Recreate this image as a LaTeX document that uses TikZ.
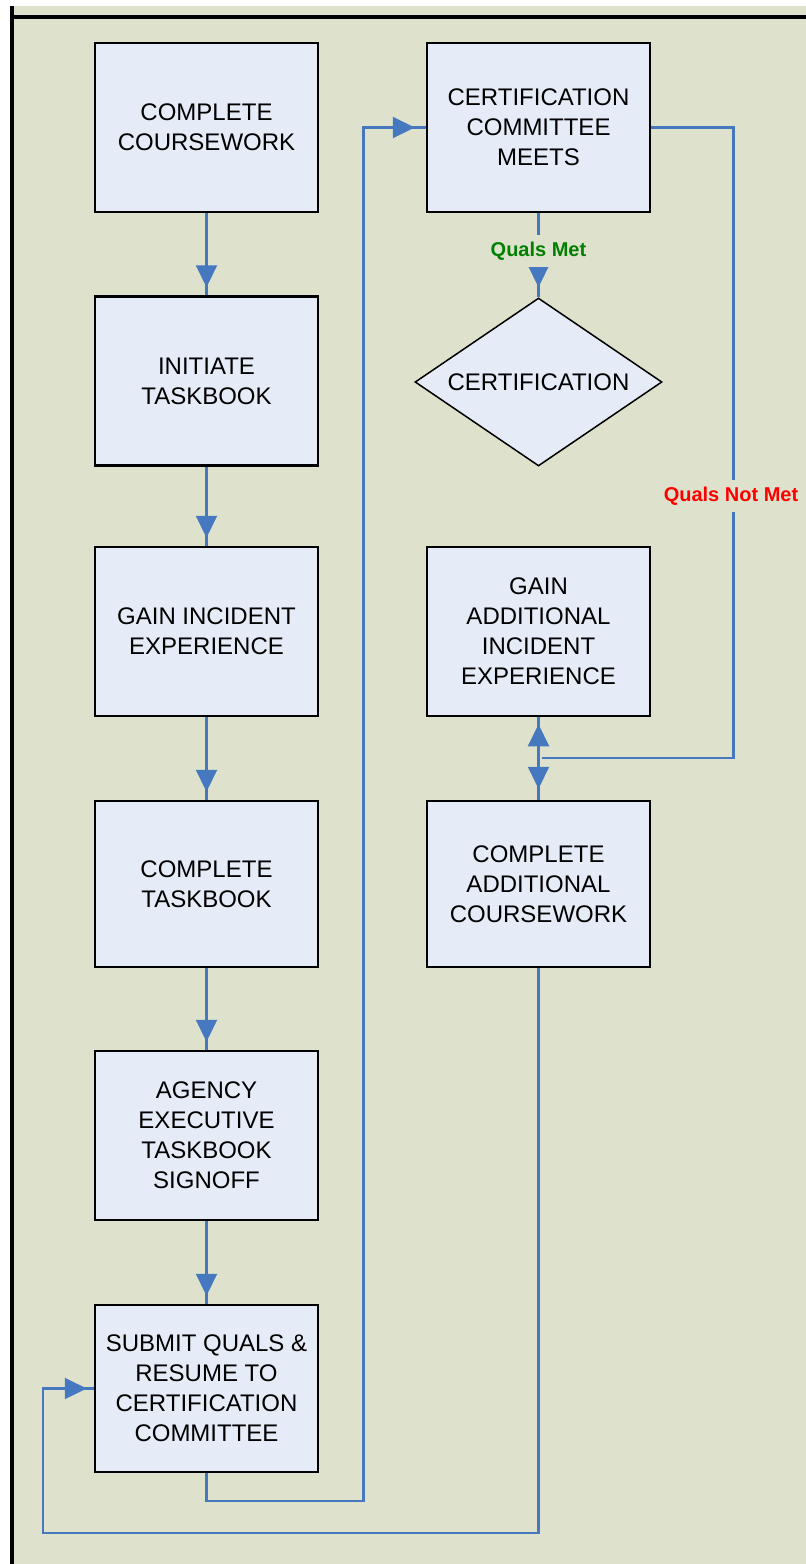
\documentclass[tikz,border=0pt]{standalone}
\usepackage{fontspec}
\setmainfont{Liberation Sans}
\usetikzlibrary{arrows.meta,shapes.geometric,decorations.markings,calc}
\definecolor{bgbeige}{RGB}{222,226,205}
\definecolor{boxfill}{RGB}{230,236,247}
\definecolor{lblue}{RGB}{70,120,192}
\definecolor{qgreen}{RGB}{0,128,0}
\definecolor{qred}{RGB}{255,0,0}
\tikzset{
  stepbox/.style={draw=black, line width=2.5pt, fill=boxfill, minimum width=223pt, minimum height=169pt,
    align=center, inner sep=4pt, font=\fontsize{24}{30}\selectfont},
  decisionbox/.style={diamond, shape aspect=1.47, draw=black, line width=1.5pt, fill=boxfill, minimum width=247pt, minimum height=168pt,
    inner sep=0pt, font=\fontsize{24}{30}\selectfont},
  bline/.style={color=lblue, line width=2.2pt},
  flow/.style={bline, postaction={decorate}, decoration={markings, mark=at position #1 with {\arrow{Triangle[width=21pt,length=22pt]}}}},
  flow/.default=-8pt,
  qlabel/.style={fill=bgbeige, inner xsep=2pt, inner ysep=7pt, font=\bfseries\fontsize{20}{22}\selectfont}
}
\begin{document}
\begin{tikzpicture}[x=1pt,y=-1pt]
\useasboundingbox (0,0) rectangle (806,1564);
\fill[white] (0,0) rectangle (806,1564);
\fill[bgbeige] (11,6) rectangle (806,1564);
\draw[black, line width=4pt] (12,6) -- (12,1564);
\draw[black, line width=3.5pt] (12,17) -- (806,17);

% left column
\node[stepbox] (b1) at (206.5,127.5) {COMPLETE\\COURSEWORK};
\node[stepbox] (b2) at (206.5,381) {INITIATE\\TASKBOOK};
\node[stepbox] (b3) at (206.5,631.5) {GAIN INCIDENT\\EXPERIENCE};
\node[stepbox, minimum height=166pt] (b4) at (206.5,884) {COMPLETE\\TASKBOOK};
\node[stepbox] (b5) at (206.5,1135.5) {AGENCY\\EXECUTIVE\\TASKBOOK\\SIGNOFF};
\node[stepbox, minimum height=167pt] (b6) at (206.5,1388.5) {SUBMIT QUALS \&\\RESUME TO\\CERTIFICATION\\COMMITTEE};

% right column
\node[stepbox] (ccm) at (538.5,127.5) {CERTIFICATION\\COMMITTEE\\MEETS};
\node[decisionbox] (cert) at (538.5,382) {CERTIFICATION};
\node[stepbox] (ga) at (538.5,631.5) {GAIN\\ADDITIONAL\\INCIDENT\\EXPERIENCE};
\node[stepbox, minimum height=166pt] (cac) at (538.5,884) {COMPLETE\\ADDITIONAL\\COURSEWORK};

% left column flow
\draw[flow] (b1.south) -- (b2.north);
\draw[flow] (b2.south) -- (b3.north);
\draw[flow] (b3.south) -- (b4.north);
\draw[flow] (b4.south) -- (b5.north);
\draw[flow] (b5.south) -- (b6.north);

% submit -> committee
\draw[flow=-11pt] (b6.south) |- ($(b6.south)+(157,28)$) |- (ccm.west);

% committee -> certification
\draw[flow=-10pt] (ccm.south) -- (cert.north);
\node[qlabel, text=qgreen] (qmet) at (538.5,251) {Quals Met};

% quals not met
\coordinate (jn) at (538.5,758);
\draw[bline] (ccm.east) -| ($(jn)+(195,0)$) -- ($(jn)+(3,0)$);
\node[qlabel, text=qred] (qnot) at (731,496) {Quals Not Met};
\draw[flow=-7pt] (jn) -- (ga.south);
\draw[flow=-11pt] (jn) -- (cac.north);

% additional coursework -> submit
\draw[flow=-7pt] (cac.south) -- ++(0,565) -| ($(b6.west)+(-51,0)$) -- (b6.west);
\end{tikzpicture}
\end{document}
